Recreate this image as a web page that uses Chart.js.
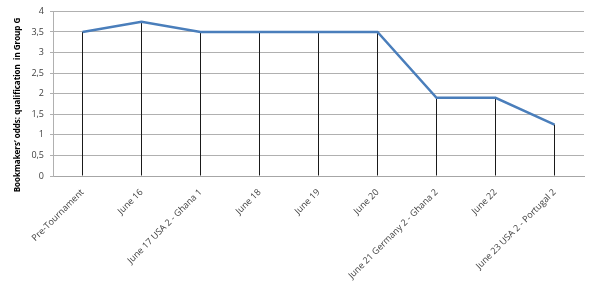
<!DOCTYPE html>
<html><head><meta charset="utf-8">
<script src="https://cdn.jsdelivr.net/npm/chart.js@4/dist/chart.umd.min.js"></script>
<style>html,body{margin:0;padding:0;background:#fff}#wrap{width:600px;height:293px}</style>
</head><body><div id="wrap"><canvas id="c" width="600" height="293"></canvas></div>
<script>
const categories = ["Pre-Tournament","June 16","June 17 USA 2 - Ghana 1","June 18","June 19","June 20","June 21 Germany 2 - Ghana 2","June 22","June 23 USA 2 - Portugal 2"];
const odds = [3.5, 3.75, 3.5, 3.5, 3.5, 3.5, 1.9, 1.9, 1.25];
const yTitle = "Bookmakers\u2019 odds: qualification  in Group G";

const titlePlugin = {
  id:'ytitle',
  afterDraw(chart){
    const ctx = chart.ctx;
    ctx.save();
    ctx.translate(18, 105);
    ctx.rotate(-Math.PI/2);
    ctx.font = "bold 8px 'Open Sans'";
    ctx.fillStyle = '#000';
    ctx.textAlign = 'center';
    ctx.textBaseline = 'middle';
    ctx.fillText(yTitle, 0, 0);
    ctx.restore();
  }
};

new Chart(document.getElementById('c'), {
  type: 'line',
  data: {
    labels: categories,
    datasets: [
      { type:'line', data: odds, borderColor:'#4a7ebb', borderWidth:2.5, pointRadius:0, tension:0, order:0 },
      { type:'bar', data: odds, backgroundColor:'#1a1a1a', barThickness:1, inflateAmount:0, order:1 }
    ]
  },
  options: {
    responsive:false, animation:false,
    layout:{padding:{top:10,right:16,left:0,bottom:0}},
    plugins:{legend:{display:false}, tooltip:{enabled:false}},
    scales:{
      x:{
        offset:true,
        grid:{display:false, drawTicks:false},
        border:{color:'#a6a6a6', width:1},
        ticks:{maxRotation:45, minRotation:45, autoSkip:false, color:'#404040', font:{family:'Open Sans', size:9}, padding:11},
        afterFit(s){ s.height = 117; }
      },
      y:{
        min:0, max:4,
        grid:{color:'#b0b0b0', tickLength:3},
        border:{color:'#b0b0b0', width:1},
        ticks:{stepSize:0.5, color:'#404040', font:{family:'Open Sans', size:9}, padding:6,
          callback:v=>String(v).replace('.',',')},
        afterFit(s){ s.width = 53; }
      }
    }
  },
  plugins:[titlePlugin]
});
</script></body></html>
